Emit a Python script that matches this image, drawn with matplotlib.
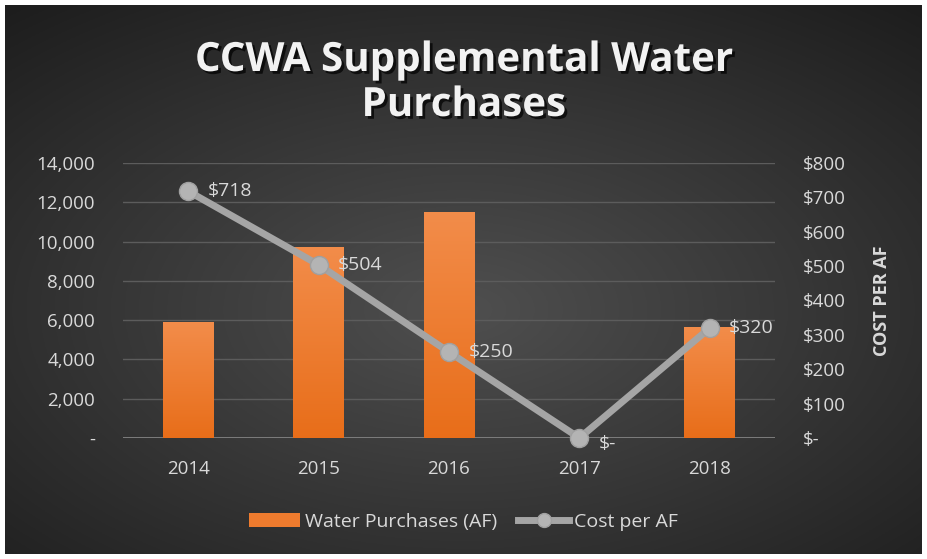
import numpy as np
import matplotlib
matplotlib.use("Agg")
import matplotlib.pyplot as plt
import matplotlib.patheffects as pe
from matplotlib.ticker import FuncFormatter, MultipleLocator
from matplotlib.lines import Line2D
from matplotlib.patches import Patch

# data
years = ["2014", "2015", "2016", "2017", "2018"]
purchases_af = [5900, 9700, 11500, 0, 5650]
cost_per_af = [718, 504, 250, 0, 320]

plt.rcParams['font.family'] = ['Open Sans', 'DejaVu Sans']
txt = '#d9d9d9'
orange = '#ee7b2e'
gray_line = '#a5a5a5'

fig = plt.figure(figsize=(9.27, 5.59), dpi=100)
fig.patch.set_facecolor('white')

# dark radial gradient background
bg = fig.add_axes([5/927, 5/559, 917/927, 549/559])
yy, xx = np.mgrid[-1:1:300j, -1:1:500j]
r = np.sqrt((xx * 0.85) ** 2 + (yy * 0.9 - 0.1) ** 2)
shade = 0.31 - 0.15 * np.clip(r, 0, 1.3)
bg.imshow(np.dstack([shade, shade, shade]), aspect='auto', extent=(0, 1, 0, 1))
bg.set_axis_off()

ax = fig.add_axes([123/927, 1 - 438/559, 652/927, 275/559])
ax.set_facecolor('none')
x = np.arange(len(years))
bars = ax.bar(x, purchases_af, width=0.39, color=orange, zorder=2)

# vertical orange gradient inside each bar
grad = np.linspace(0, 1, 100).reshape(-1, 1)
top_c = np.array([0.95, 0.55, 0.29])
bot_c = np.array([0.91, 0.43, 0.10])
img = grad[..., None] * top_c + (1 - grad[..., None]) * bot_c
for b in bars:
    if b.get_height() <= 0:
        continue
    x0, y0 = b.get_x(), b.get_y()
    im = ax.imshow(img, aspect='auto', origin='lower', zorder=2,
                   extent=(x0, x0 + b.get_width(), y0, y0 + b.get_height()))
    im.set_clip_path(b)
ax.set_xlim(-0.5, len(years) - 0.5)
ax.set_ylim(0, 14000)

ax.yaxis.set_major_locator(MultipleLocator(2000))
ax.yaxis.set_major_formatter(FuncFormatter(lambda v, p: '-' if v == 0 else f'{v:,.0f}'))
ax.set_xticks(x, years)
ax.grid(axis='y', color='#5c5c5c', lw=1, zorder=0)
ax.axhline(0, color='#8c8c8c', lw=2, zorder=1)
for s in ax.spines.values():
    s.set_visible(False)
ax.tick_params(axis='y', length=0, pad=20, labelsize=13.5, labelcolor=txt)
ax.tick_params(axis='x', length=0, pad=16, labelsize=13.5, labelcolor=txt)

ax2 = ax.twinx()
ax2.set_ylim(0, 800)
ax2.yaxis.set_major_locator(MultipleLocator(100))
ax2.yaxis.set_major_formatter(FuncFormatter(lambda v, p: '$-' if v == 0 else f'${v:,.0f}'))
for s in ax2.spines.values():
    s.set_visible(False)
ax2.tick_params(axis='y', length=0, pad=20, labelsize=13.5, labelcolor=txt)
ax2.plot(x, cost_per_af, color=gray_line, lw=5, marker='o', ms=13,
         markerfacecolor='#b4b4b4', markeredgecolor='#a0a0a0', zorder=3, clip_on=False)
for xi, v in zip(x, cost_per_af):
    lab = '$-' if v == 0 else f'${v}'
    dy = -4 if v == 0 else 0
    ax2.annotate(lab, (xi, v), xytext=(14, dy), textcoords='offset points',
                 color=txt, fontsize=14, ha='left', va='center')
ax2.set_ylabel('COST PER AF', color=txt, fontsize=13, fontweight='bold', labelpad=20)

fig.text(0.5, 1 - 83/559, 'CCWA Supplemental Water\nPurchases', ha='center', va='center',
         color='#f2f2f2', fontsize=29, fontweight='bold', linespacing=1.2,
         path_effects=[pe.withSimplePatchShadow(offset=(2, -2), shadow_rgbFace='black', alpha=0.7)])

handles = [Patch(facecolor=orange, label='Water Purchases (AF)'),
           Line2D([0], [0], color=gray_line, lw=5, marker='o', ms=10,
                  markerfacecolor='#b4b4b4', markeredgecolor='#a0a0a0', label='Cost per AF')]
fig.legend(handles=handles, loc='center', bbox_to_anchor=(0.5, 1 - 522/559), ncol=2,
           frameon=False, fontsize=14, labelcolor=txt, handlelength=2.6,
           handletextpad=0.25, columnspacing=1.1)

fig.savefig('out.png', dpi=100, facecolor=fig.get_facecolor())
